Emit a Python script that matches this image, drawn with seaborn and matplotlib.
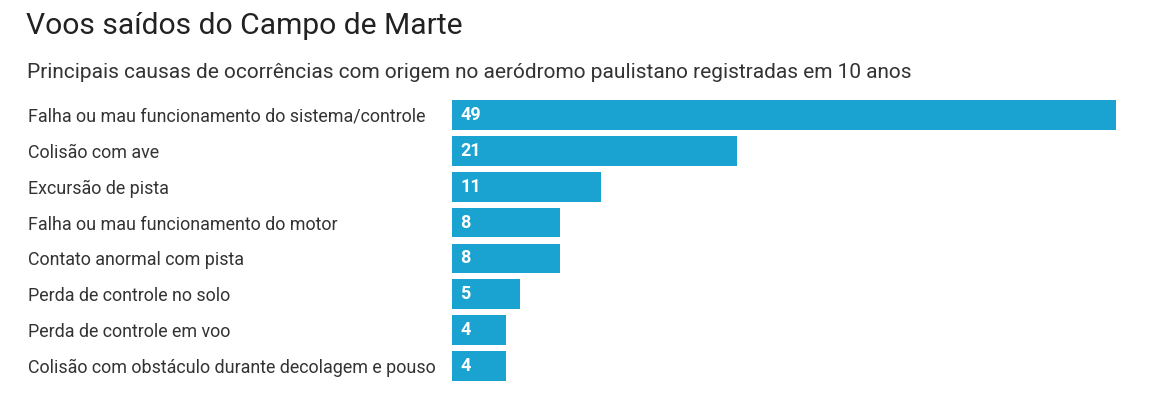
import matplotlib
matplotlib.use("Agg")
import matplotlib.pyplot as plt
import matplotlib.transforms as mtransforms
import pandas as pd
import seaborn as sns

# Data
causas = [
    "Falha ou mau funcionamento do sistema/controle",
    "Colisão com ave",
    "Excursão de pista",
    "Falha ou mau funcionamento do motor",
    "Contato anormal com pista",
    "Perda de controle no solo",
    "Perda de controle em voo",
    "Colisão com obstáculo durante decolagem e pouso",
]
ocorrencias = [49, 21, 11, 8, 8, 5, 4, 4]

df = pd.DataFrame({"causa": causas, "n": ocorrencias})

sns.set_theme(style="white")
plt.rcParams['font.family'] = ['Roboto', 'DejaVu Sans']

W, H = 1159, 405
fig = plt.figure(figsize=(W / 100, H / 100), dpi=100)
ax = fig.add_axes([452 / W, (H - 384) / H, (1116 - 452) / W, (384 - 97) / H])

sns.barplot(data=df, x="n", y="causa", color="#1aa3d1", saturation=1,
            width=0.83, ax=ax, orient="h", linewidth=0)

ax.set_xlim(0, max(ocorrencias))
ax.set_xlabel("")
ax.set_ylabel("")
ax.set_xticks([])
sns.despine(ax=ax, left=True, bottom=True)

# category labels left-aligned at the figure margin
ax.tick_params(axis="y", length=0, pad=(452 - 28) * 0.72)
for lbl in ax.get_yticklabels():
    lbl.set_horizontalalignment("left")
    lbl.set_fontsize(12.9)
    lbl.set_color("#333333")

# value labels inside the bars
offset = mtransforms.offset_copy(ax.transData, fig=fig, x=8, y=0, units="dots")
for i, v in enumerate(ocorrencias):
    ax.text(0, i, str(v), transform=offset, ha="left", va="center",
            color="white", fontsize=13, fontweight="bold")

fig.text(26 / W, 1 - 26 / H, "Voos saídos do Campo de Marte", fontsize=21.6,
         color="#222222", ha="left", va="center")
fig.text(27 / W, 1 - 73 / H,
         "Principais causas de ocorrências com origem no aeródromo paulistano registradas em 10 anos",
         fontsize=15, color="#333333", ha="left", va="center")

fig.savefig("out.png", dpi=100, facecolor="white")
